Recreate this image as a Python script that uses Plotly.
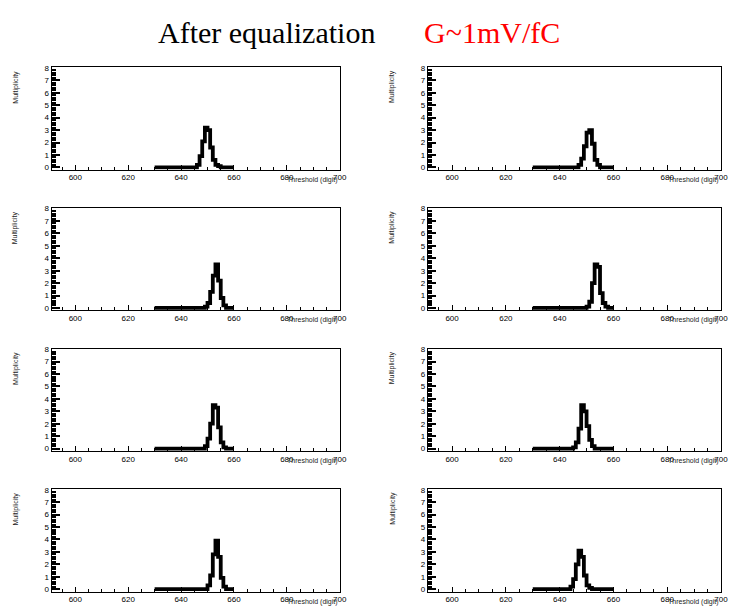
import plotly.graph_objects as go

# ---- data ----
bin_edges = list(range(630, 661))  # 30 bins of width 1 (630..660)

def zeros():
    return [0.0] * 30

# counts per panel: dict bin_left -> multiplicity (remaining bins are 0)
peak_r1c1 = {646: 0.2, 647: 0.9, 648: 2.1, 649: 3.2, 650: 3.0, 651: 1.6, 652: 0.6, 653: 0.2, 654: 0.1}
peak_r1c2 = {647: 0.2, 648: 0.7, 649: 1.7, 650: 2.8, 651: 3.0, 652: 1.9, 653: 0.6, 654: 0.2}
peak_r2c1 = {649: 0.1, 650: 0.4, 651: 1.3, 652: 2.6, 653: 3.5, 654: 2.2, 655: 0.8, 656: 0.2}
peak_r2c2 = {650: 0.1, 651: 0.5, 652: 2.0, 653: 3.5, 654: 3.3, 655: 1.2, 656: 0.4, 657: 0.1}
peak_r3c1 = {649: 0.2, 650: 0.8, 651: 2.0, 652: 3.5, 653: 3.3, 654: 1.7, 655: 0.5, 656: 0.1}
peak_r3c2 = {645: 0.1, 646: 0.5, 647: 1.6, 648: 3.5, 649: 3.0, 650: 1.8, 651: 0.7, 652: 0.2}
peak_r4c1 = {650: 0.3, 651: 1.1, 652: 2.8, 653: 3.9, 654: 2.6, 655: 0.9, 656: 0.2}
peak_r4c2 = {644: 0.2, 645: 0.8, 646: 2.0, 647: 3.1, 648: 2.6, 649: 1.1, 650: 0.3, 651: 0.1}

panels = [peak_r1c1, peak_r1c2, peak_r2c1, peak_r2c2,
          peak_r3c1, peak_r3c2, peak_r4c1, peak_r4c2]

x_ticks = [600, 620, 640, 660, 680, 700]
y_ticks = [0, 1, 2, 3, 4, 5, 6, 7, 8]

title_left = "After equalization"
title_right = "G~1mV/fC"
x_title = "Threshold (digit)"
y_title = "Multiplicity"

# ---- layout geometry ----
W, H = 733, 606
col_px = [(52, 343), (432, 728)]
row_px = [(64, 167.5), (206, 309.5), (348, 451.5), (490, 593.5)]

fig = go.Figure()
annotations = []
layout_axes = {}
for i, peak in enumerate(panels):
    r, c = divmod(i, 2)
    counts = zeros()
    for k, v in peak.items():
        counts[k - 630] = v
    ys = counts + [counts[-1]]
    n = i + 1
    xa = "x" if n == 1 else f"x{n}"
    ya = "y" if n == 1 else f"y{n}"
    fig.add_trace(go.Scatter(x=bin_edges, y=ys, mode="lines", line_shape="hv",
                             line=dict(color="black", width=3.8),
                             xaxis=xa, yaxis=ya, showlegend=False, hoverinfo="skip"))
    x0, x1 = col_px[c]
    t, b = row_px[r]
    xd = [x0 / W, x1 / W]
    yd = [1 - b / H, 1 - t / H]
    xkey = "xaxis" if n == 1 else f"xaxis{n}"
    ykey = "yaxis" if n == 1 else f"yaxis{n}"
    layout_axes[xkey] = dict(
        domain=xd, anchor=ya, range=[591, 700], tickvals=x_ticks,
        ticks="inside", ticklen=5, tickcolor="black", tickwidth=1,
        showline=True, linecolor="black", linewidth=1, mirror=True,
        showgrid=False, zeroline=False,
        tickfont=dict(family="Liberation Sans", size=8, color="black"),
        minor=dict(dtick=5, tick0=600, ticks="inside", ticklen=3, tickcolor="black"),
    )
    layout_axes[ykey] = dict(
        domain=yd, anchor=xa, range=[-0.2, 8.05], tickvals=y_ticks,
        ticks="inside", ticklen=8, tickcolor="black", tickwidth=1.5,
        showline=True, linecolor="black", linewidth=1, mirror=True,
        showgrid=False, zeroline=False,
        tickfont=dict(family="Liberation Sans", size=8, color="black"),
        minor=dict(dtick=0.2, tick0=0, ticks="inside", ticklen=4, tickcolor="black"),
    )
    # axis titles
    annotations.append(dict(text=x_title, xref="paper", yref="paper",
                            x=x1 / W, y=1 - (b + 10) / H, xanchor="right", yanchor="middle",
                            showarrow=False, font=dict(family="Liberation Sans", size=7, color="#222")))
    annotations.append(dict(text=y_title, xref="paper", yref="paper", textangle=-90,
                            x=(x0 - 36) / W, y=1 - (t + 1) / H, xanchor="center", yanchor="top",
                            showarrow=False, font=dict(family="Liberation Sans", size=7, color="#222")))

annotations.append(dict(text=title_left, xref="paper", yref="paper", x=269 / W, y=1 - 29 / H,
                        xanchor="center", yanchor="middle", showarrow=False,
                        font=dict(family="Liberation Serif", size=30, color="black")))
annotations.append(dict(text=title_right, xref="paper", yref="paper", x=497 / W, y=1 - 29 / H,
                        xanchor="center", yanchor="middle", showarrow=False,
                        font=dict(family="Liberation Serif", size=30, color="red")))

fig.update_layout(width=W, height=H, margin=dict(l=0, r=0, t=0, b=0),
                  paper_bgcolor="white", plot_bgcolor="white",
                  annotations=annotations, **layout_axes)

fig.write_html("out.html", config={"displayModeBar": False},
               post_script="document.body.style.margin='0';document.body.style.overflow='hidden';")
